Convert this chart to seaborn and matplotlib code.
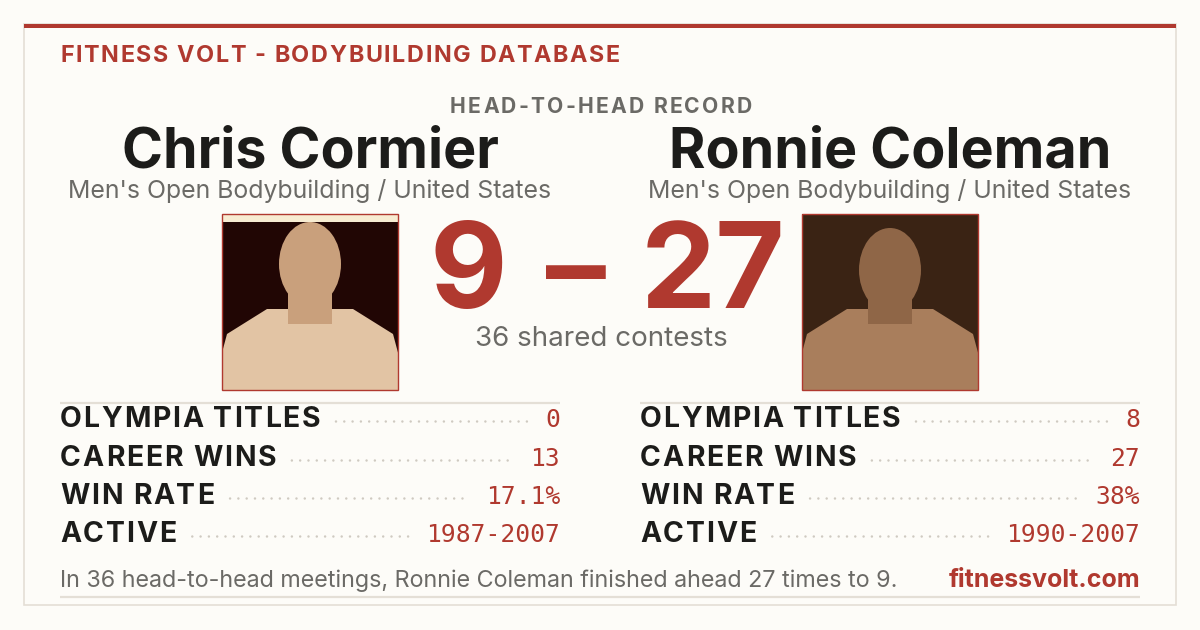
import numpy as np
import seaborn as sns
import matplotlib.pyplot as plt
from matplotlib.patches import Rectangle, Ellipse, Polygon
from matplotlib.font_manager import FontProperties, findfont, get_font

# Data
site_title = "FITNESS VOLT - BODYBUILDING DATABASE"
record_title = "HEAD-TO-HEAD RECORD"
athletes = ["Chris Cormier", "Ronnie Coleman"]
divisions = ["Men's Open Bodybuilding / United States", "Men's Open Bodybuilding / United States"]
h2h_wins = [9, 27]
shared_contests = 36
stat_labels = ["OLYMPIA TITLES", "CAREER WINS", "WIN RATE", "ACTIVE"]
left_values = ["0", "13", "17.1%", "1987-2007"]
right_values = ["8", "27", "38%", "1990-2007"]
site_url = "fitnessvolt.com"

RED = "#b0392f"
INK = "#1c1c1a"
GRAY = "#6b6a66"
BG = "#fdfcf8"
RULE = "#e4dfd6"
DOT = "#cfcac1"
DPI = 100

sns.set_theme(style="white", rc={"figure.facecolor": BG, "axes.facecolor": BG})
FAM = ["Inter", "DejaVu Sans"]
MONO = ["DejaVu Sans Mono"]
plt.rcParams["font.family"] = FAM

fig = plt.figure(figsize=(12, 6.3), dpi=DPI)
ax = fig.add_axes([0, 0, 1, 1])
ax.set_xlim(0, 1200)
ax.set_ylim(630, 0)
ax.axis("off")


def advances(s, fp):
    font = get_font(findfont(fp))
    font.set_size(fp.get_size_in_points(), DPI)
    return [font.load_char(ord(c)).linearHoriAdvance / 65536 for c in s]


def tracked(x, y, s, size, weight="normal", color=INK, track=0.0, ha="left",
            family=FAM, width=None):
    # draw text char by char to get letter spacing
    fp = FontProperties(family=family, weight=weight, size=size)
    adv = advances(s, fp)
    if width is not None:
        track = (width - sum(adv)) / (len(s) - 1)
    total = sum(adv) + track * (len(s) - 1)
    if ha == "center":
        x -= total / 2
    elif ha == "right":
        x -= total
    start = x
    for c, a in zip(s, adv):
        if c != " ":
            ax.text(x, y, c, fontproperties=fp, color=color, ha="left", va="baseline")
        x += a + track
    return start, start + total


# card
ax.add_patch(Rectangle((24, 24), 1152, 581, fc=BG, ec=RULE, lw=1.2))
ax.add_patch(Rectangle((24, 24), 1152, 4, fc=RED, ec="none"))

tracked(60, 62, site_title, 16.8, weight="bold", color=RED, width=560)
tracked(601, 113, record_title, 15.2, weight="bold", color=GRAY, width=302, ha="center")

centers = [310, 890]
for cx, name, div in zip(centers, athletes, divisions):
    ax.text(cx, 168, name, fontsize=40, fontweight="bold", color=INK,
            ha="center", va="baseline")
    ax.text(cx, 198, div, fontsize=17.9, color=GRAY, ha="center", va="baseline")

# photo placeholders
photo_bg = ["#210604", "#3a2314"]
skin = ["#c9a07c", "#8f6647"]
light = ["#e2c4a4", "#a97e5c"]
for i, cx in enumerate(centers):
    x0, y0, s = cx - 88, 214, 176
    clip = Rectangle((x0, y0), s, s, transform=ax.transData)
    ax.add_patch(Rectangle((x0, y0), s, s, fc=photo_bg[i], ec="none"))
    if i == 0:
        ax.add_patch(Rectangle((x0, y0), s, 8, fc="#f7ecd2", ec="none"))
    torso = Polygon([(x0 - 10, y0 + s), (x0 + 5, y0 + 120), (x0 + 45, y0 + 95),
                     (x0 + s - 45, y0 + 95), (x0 + s - 5, y0 + 120), (x0 + s + 10, y0 + s)],
                    fc=light[i], ec="none")
    neck = Rectangle((cx - 22, y0 + 70), 44, 40, fc=skin[i], ec="none")
    head = Ellipse((cx, y0 + 50 + 6 * i), 62, 84, fc=skin[i], ec="none")
    for p in (torso, neck, head):
        ax.add_patch(p)
        p.set_clip_path(clip)
    ax.add_patch(Rectangle((x0, y0), s, s, fc="none", ec=RED, lw=1))

# score
score_kw = dict(fontsize=86, fontweight="bold", color=RED, ha="center", va="baseline")
ax.text(468, 308, str(h2h_wins[0]), **score_kw)
ax.text(576, 308, "–", **score_kw)
ax.text(713, 308, str(h2h_wins[1]), **score_kw)
ax.text(601, 346, f"{shared_contests} shared contests", fontsize=20, color=GRAY,
        ha="center", va="baseline")

# stat rows
baselines = [427, 466, 504, 542]
cols = [(60, 560, left_values), (640, 1140, right_values)]
mono_fp = FontProperties(family=MONO, size=17.7)
for x0, x1, vals in cols:
    ax.plot([x0, x1], [403, 403], color=RULE, lw=1.6, solid_capstyle="butt")
    for lab, val, yb in zip(stat_labels, vals, baselines):
        _, lab_end = tracked(x0, yb, lab, 20.4, weight="bold", color=INK, track=1.8)
        ax.text(x1, yb, val, fontproperties=mono_fp, color=RED, ha="right", va="baseline")
        val_start = x1 - sum(advances(val, mono_fp))
        dots_x = np.arange(lab_end + 16, val_start - 16, 8.3)
        sns.scatterplot(x=dots_x, y=np.full(len(dots_x), yb - 5.5), ax=ax, s=3,
                        color=DOT, edgecolor="none", legend=False)

# footer
footer = (f"In {shared_contests} head-to-head meetings, {athletes[1]} finished ahead "
          f"{h2h_wins[1]} times to {h2h_wins[0]}.")
ax.text(60, 587, footer, fontsize=16.8, color=GRAY, ha="left", va="baseline")
ax.text(1140, 587, site_url, fontsize=18, fontweight="bold", color=RED,
        ha="right", va="baseline")
ax.plot([60, 1140], [597, 597], color=RULE, lw=1.6, solid_capstyle="butt")

ax.set_xlim(0, 1200)
ax.set_ylim(630, 0)
ax.axis("off")
fig.savefig("out.png", dpi=DPI, facecolor=BG)
